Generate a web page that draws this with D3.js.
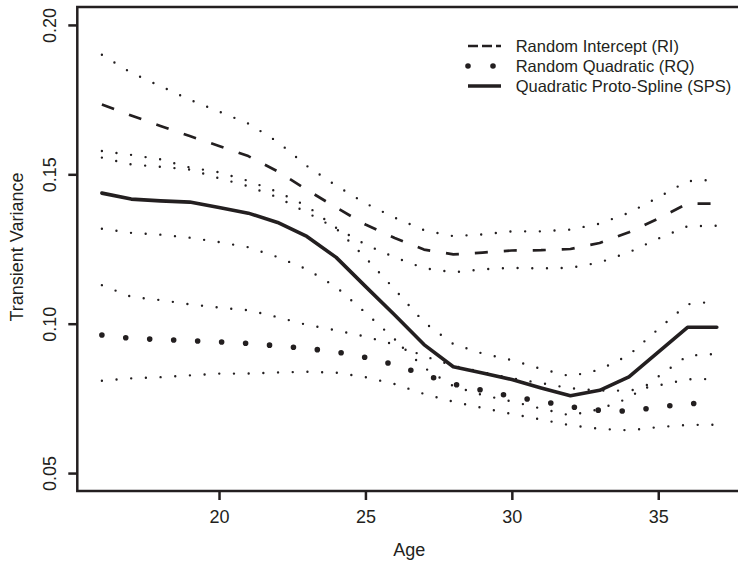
<!DOCTYPE html>
<html>
<head>
<meta charset="utf-8">
<script src="https://cdn.jsdelivr.net/npm/d3@7"></script>
<style>
    body { margin: 0; background: #fff; }
    svg { display: block; font-family: "Liberation Sans", Arial, sans-serif; }
</style>
</head>
<body>
<div id="chart"></div>
<script>
"use strict"

// ages on the x axis
const ages = [16, 17, 18, 19, 20, 21, 22, 23, 24, 25, 26, 27, 28, 29, 30, 31, 32, 33, 34, 35, 36, 37];

// random intercept (RI): fit and band
const riFit   = [0.1734, 0.1697, 0.1662, 0.1628, 0.1595, 0.1561, 0.1510, 0.1448, 0.1389, 0.1332, 0.1287, 0.1248, 0.1232, 0.1238, 0.1245, 0.1246, 0.1250, 0.1270, 0.1306, 0.1352, 0.1402, 0.1402];
const riUpper = [0.1900, 0.1840, 0.1795, 0.1750, 0.1710, 0.1670, 0.1609, 0.1528, 0.1462, 0.1403, 0.1355, 0.1313, 0.1293, 0.1299, 0.1309, 0.1309, 0.1315, 0.1335, 0.1371, 0.1423, 0.1477, 0.1482];
const riLower = [0.1578, 0.1565, 0.1550, 0.1523, 0.1507, 0.1478, 0.1441, 0.1394, 0.1321, 0.1265, 0.1222, 0.1186, 0.1172, 0.1182, 0.1187, 0.1185, 0.1187, 0.1205, 0.1239, 0.1285, 0.1326, 0.1328];

// random quadratic (RQ): fit and band
const rqFit   = [0.0962, 0.0951, 0.0947, 0.0943, 0.0939, 0.0934, 0.0926, 0.0917, 0.0906, 0.0887, 0.0863, 0.0829, 0.0798, 0.0777, 0.0756, 0.0741, 0.0722, 0.0710, 0.0707, 0.0721, 0.0732, 0.0736];
const rqUpper = [0.1129, 0.1090, 0.1079, 0.1065, 0.1054, 0.1045, 0.1022, 0.0996, 0.0978, 0.0957, 0.0930, 0.0892, 0.0859, 0.0838, 0.0817, 0.0801, 0.0784, 0.0776, 0.0776, 0.0793, 0.0814, 0.0815];
const rqLower = [0.0809, 0.0817, 0.0821, 0.0827, 0.0833, 0.0833, 0.0837, 0.0839, 0.0836, 0.0821, 0.0798, 0.0765, 0.0739, 0.0718, 0.0698, 0.0679, 0.0660, 0.0648, 0.0643, 0.0654, 0.0661, 0.0662];

// quadratic proto-spline (SPS): fit and band
const spsFit   = [0.1437, 0.1417, 0.1411, 0.1407, 0.1389, 0.1370, 0.1339, 0.1292, 0.1222, 0.1125, 0.1029, 0.0930, 0.0856, 0.0835, 0.0813, 0.0785, 0.0759, 0.0777, 0.0822, 0.0905, 0.0988, 0.0988];
const spsUpper = [0.1556, 0.1533, 0.1525, 0.1516, 0.1487, 0.1460, 0.1423, 0.1372, 0.1319, 0.1221, 0.1115, 0.1005, 0.0932, 0.0900, 0.0878, 0.0849, 0.0824, 0.0846, 0.0895, 0.0982, 0.1065, 0.1075];
const spsLower = [0.1318, 0.1304, 0.1298, 0.1288, 0.1273, 0.1256, 0.1223, 0.1182, 0.1123, 0.1037, 0.0948, 0.0853, 0.0791, 0.0761, 0.0740, 0.0716, 0.0693, 0.0714, 0.0751, 0.0823, 0.0893, 0.0899];

const xTicks = [20, 25, 30, 35];
const yTicks = [0.05, 0.10, 0.15, 0.20];
const yTickLabels = ["0.05", "0.10", "0.15", "0.20"];

const legendLabels = ["Random Intercept (RI)", "Random Quadratic (RQ)", "Quadratic Proto-Spline (SPS)"];

const ink = "#231f20";

let ChartView = function(targetID) {

    let self = {
        svg: null,
        x: null,
        y: null
    };

    init();

    function init() {
        self.svg = d3.select(targetID).append("svg")
            .attr("width", 738)
            .attr("height", 563);

        // R style: 4% padding around xlim = c(16, 37), ylim = c(0.05, 0.20)
        self.x = d3.scaleLinear().domain([15.16, 37.84]).range([77.3, 741.4]);
        self.y = d3.scaleLinear().domain([0.044, 0.206]).range([491, 7]);

        drawLines();
        drawAxes();
        drawLegend();
    }

    function drawLines() {
        let lineFunc = d3.line()
            .x((d, i) => self.x(ages[i]))
            .y(d => self.y(d));

        let band = { width: 2.4, dash: "0 14.7", cap: "round" };
        let series = [
            { values: riUpper, style: band },
            { values: riLower, style: band },
            { values: spsUpper, style: band },
            { values: spsLower, style: band },
            { values: rqUpper, style: band },
            { values: rqLower, style: band },
            { values: riFit, style: { width: 2.7, dash: "13 16", cap: "butt" } },
            { values: rqFit, style: { width: 5.6, dash: "0 24", cap: "round" } },
            { values: spsFit, style: { width: 3.6, dash: null, cap: "round" } }
        ];

        for (let s of series) {
            self.svg.append("path")
                .attr("d", lineFunc(s.values))
                .style("fill", "none")
                .style("stroke", ink)
                .style("stroke-width", s.style.width + "px")
                .style("stroke-dasharray", s.style.dash)
                .style("stroke-linecap", s.style.cap)
                .style("stroke-linejoin", "round");
        }
    }

    function drawAxes() {
        // frame (right side falls outside the picture)
        self.svg.append("rect")
            .attr("x", self.x.range()[0])
            .attr("y", self.y.range()[1])
            .attr("width", self.x.range()[1] - self.x.range()[0])
            .attr("height", self.y.range()[0] - self.y.range()[1])
            .style("fill", "none")
            .style("stroke", ink)
            .style("stroke-width", "2.5px");

        let xAxis = self.svg.append("g")
            .attr("transform", "translate(0," + self.y.range()[0] + ")")
            .call(d3.axisBottom(self.x).tickValues(xTicks).tickSize(9).tickSizeOuter(0));

        let yAxis = self.svg.append("g")
            .attr("transform", "translate(" + self.x.range()[0] + ",0)")
            .call(d3.axisLeft(self.y).tickValues(yTicks).tickSize(9).tickSizeOuter(0)
                .tickFormat((d, i) => yTickLabels[i]));

        for (let g of [xAxis, yAxis]) {
            g.select(".domain").remove();
            g.selectAll(".tick line").style("stroke", ink).style("stroke-width", "2.5px");
            g.selectAll(".tick text")
                .style("fill", ink)
                .style("font-size", "18px")
                .style("font-family", "'Liberation Sans', Arial, sans-serif");
        }

        xAxis.selectAll(".tick text")
            .attr("y", 32)
            .attr("dy", 0);

        yAxis.selectAll(".tick text")
            .attr("transform", "rotate(-90)")
            .attr("x", 0)
            .attr("y", -21.8)
            .attr("dy", 0)
            .attr("text-anchor", "middle");

        self.svg.append("text")
            .attr("x", (self.x.range()[0] + self.x.range()[1]) / 2)
            .attr("y", 556)
            .attr("text-anchor", "middle")
            .style("font-size", "18px")
            .style("fill", ink)
            .text("Age");

        self.svg.append("text")
            .attr("transform", "translate(23,247) rotate(-90)")
            .attr("text-anchor", "middle")
            .style("font-size", "18px")
            .style("fill", ink)
            .text("Transient Variance");
    }

    function drawLegend() {
        let keyStyles = [
            { width: 2.7, dash: "10 4", cap: "butt" },
            { width: 5.6, dash: "0 25", cap: "round" },
            { width: 3.6, dash: null, cap: "butt" }
        ];

        for (let i = 0; i < legendLabels.length; i++) {
            let yy = 46 + i * 20;
            self.svg.append("line")
                .attr("x1", 468)
                .attr("x2", 501)
                .attr("y1", yy)
                .attr("y2", yy)
                .style("stroke", ink)
                .style("stroke-width", keyStyles[i].width + "px")
                .style("stroke-dasharray", keyStyles[i].dash)
                .style("stroke-linecap", keyStyles[i].cap);

            self.svg.append("text")
                .attr("x", 515.7)
                .attr("y", yy + 5.8)
                .style("font-size", "16.5px")
                .style("fill", ink)
                .text(legendLabels[i]);
        }
    }

    return {};
}

ChartView("#chart");
</script>
</body>
</html>
